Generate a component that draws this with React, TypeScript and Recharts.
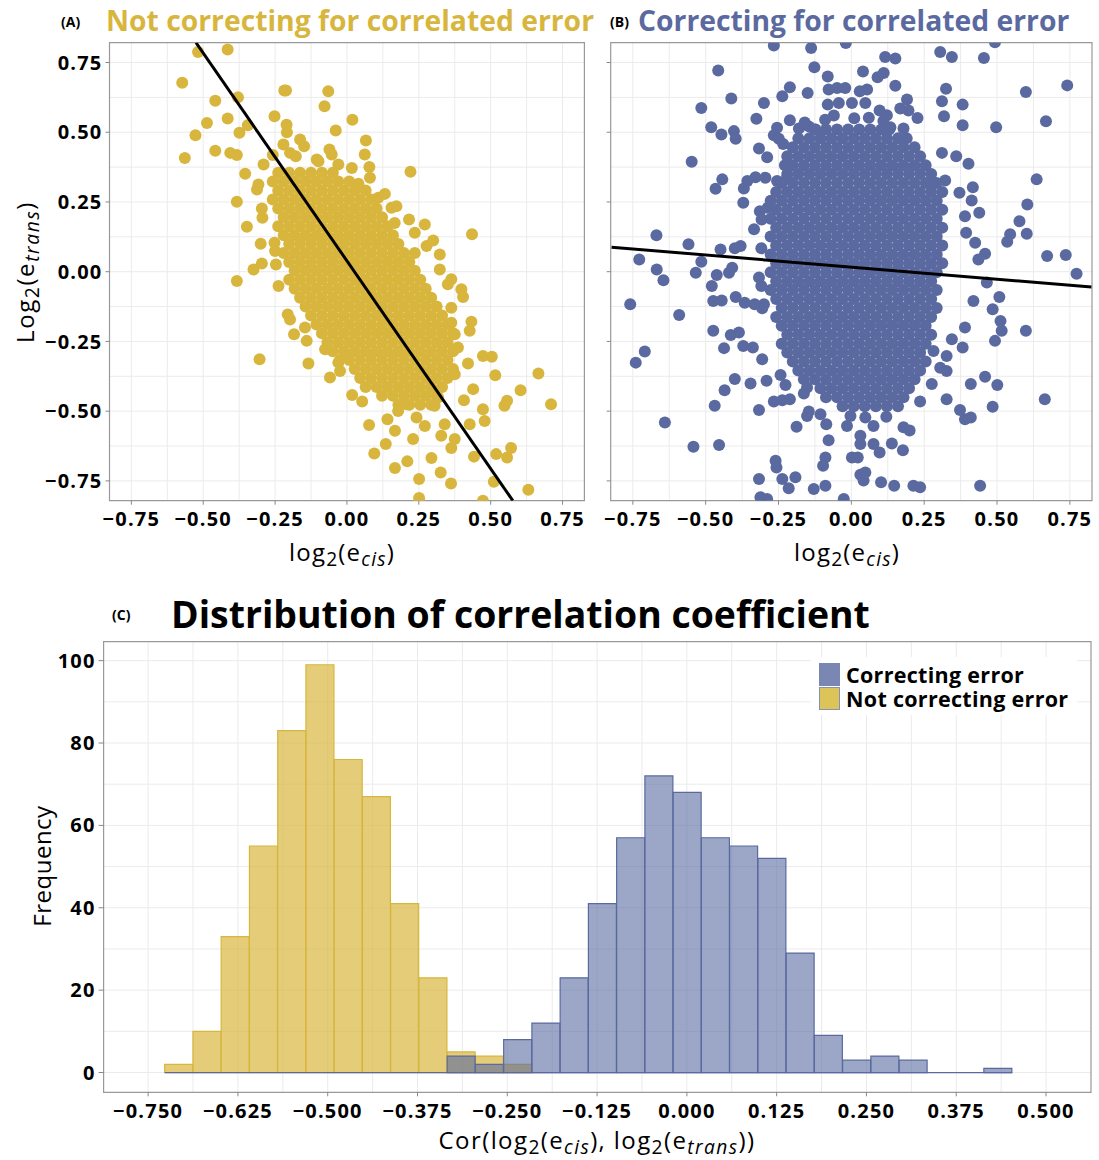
import {
  Bar,
  BarChart,
  CartesianGrid,
  ReferenceArea,
  ReferenceLine,
  Scatter,
  ScatterChart,
  XAxis,
  YAxis,
} from "recharts";

const YELLOW = "#D8B63E";
const BLUE = "#5A6AA0";
const FONT = "'Open Sans', Lato, sans-serif";

// panel A / B axes
const scatterTicks = [-0.75, -0.5, -0.25, 0, 0.25, 0.5, 0.75];
const scatterGrid = [-0.75, -0.625, -0.5, -0.375, -0.25, -0.125, 0, 0.125, 0.25, 0.375, 0.5, 0.625, 0.75];

// panel A: scattered points (x = log2 e_cis, y = log2 e_trans)
const outerA: [number, number][] = [
  [-0.518, 0.788], [-0.415, 0.797], [-0.573, 0.677], [-0.458, 0.613], [-0.379, 0.625], [-0.487, 0.533],
  [-0.415, 0.549], [-0.527, 0.489], [-0.564, 0.408], [-0.458, 0.434], [-0.406, 0.426], [-0.383, 0.418],
  [-0.374, 0.498], [-0.345, 0.525], [-0.252, 0.557], [-0.218, 0.65], [-0.212, 0.65], [-0.065, 0.647],
  [-0.078, 0.593], [0.019, 0.545], [-0.21, 0.527], [-0.209, 0.5], [-0.163, 0.474], [-0.149, 0.45],
  [-0.221, 0.456], [-0.198, 0.426], [-0.178, 0.414], [-0.258, 0.418], [-0.29, 0.384], [-0.354, 0.351],
  [-0.383, 0.251], [-0.313, 0.295], [-0.039, 0.506], [0.066, 0.47], [0.062, 0.42], [0.078, 0.375],
  [0.017, 0.372], [-0.061, 0.438], [-0.053, 0.42], [-0.105, 0.402], [0.221, 0.358], [0.04, 0.315],
  [0.132, 0.279], [0.435, 0.134], [-0.348, 0.161], [-0.296, 0.227], [-0.294, 0.193], [-0.3, 0.1],
  [-0.25, 0.074], [-0.325, 0.008], [-0.296, 0.029], [-0.383, -0.033], [-0.238, -0.051], [-0.304, -0.314],
  [-0.184, -0.224], [-0.134, -0.329], [-0.14, -0.248], [-0.059, -0.379], [-0.024, -0.356], [0.018, -0.442],
  [0.053, -0.465], [0.077, -0.55], [0.141, -0.529], [0.167, -0.57], [0.095, -0.652], [0.135, -0.618],
  [0.167, -0.704], [0.21, -0.68], [0.251, -0.743], [0.251, -0.811], [0.294, -0.668], [0.326, -0.72],
  [0.362, -0.759], [0.473, -0.821], [0.442, -0.663], [0.519, -0.654], [0.557, -0.666], [0.571, -0.632],
  [0.511, -0.753], [0.631, -0.782], [0.666, -0.365], [0.71, -0.475], [0.604, -0.425], [0.548, -0.481],
  [0.557, -0.463], [0.516, -0.371], [0.473, -0.302], [0.504, -0.305], [0.473, -0.493], [0.479, -0.535],
  [0.421, -0.329], [0.433, -0.179], [0.427, -0.212], [0.407, -0.461], [0.439, -0.421], [0.427, -0.547],
  [0.375, -0.6], [0.363, -0.632], [0.398, -0.063], [0.404, -0.091], [0.363, -0.027], [0.363, -0.129],
  [0.323, 0.062], [0.323, 0.008], [0.3, 0.112], [0.277, 0.092], [0.216, 0.187], [0.236, 0.14],
  [0.172, 0.235], [0.166, 0.175], [0.34, -0.547], [0.328, -0.588], [0.271, -0.553], [0.23, -0.6],
  [-0.308, 0.313], [-0.252, 0.104], [-0.247, 0.026], [-0.206, -0.153], [-0.198, -0.171], [-0.146, -0.2],
  [-0.076, -0.278], [-0.03, -0.326], [0.178, -0.499], [0.207, -0.475], [0.242, -0.523], [0.305, -0.481],
  [0.317, -0.451], [0.375, -0.368], [0.386, -0.272], [0.375, -0.224], [0.363, -0.183], [0.351, -0.045],
  [0.271, 0.169], [0.155, 0.229], [0.109, 0.265], [0.08, 0.337], [-0.03, 0.384], [-0.099, 0.396],
];

// panel A: dense core, read row by row (y, x positions)
const coreA: [number, number[]][] = [
  [0.355, [-0.239, -0.201, -0.163, -0.125, -0.087, -0.049]],
  [0.323, [-0.258, -0.22, -0.182, -0.144, -0.106, -0.068, -0.03, 0.008]],
  [0.291, [-0.239, -0.201, -0.163, -0.125, -0.087, -0.049, -0.011, 0.027, 0.065]],
  [0.259, [-0.258, -0.22, -0.182, -0.144, -0.106, -0.068, -0.03, 0.008, 0.046, 0.084]],
  [0.227, [-0.239, -0.201, -0.163, -0.125, -0.087, -0.049, -0.011, 0.027, 0.065, 0.103]],
  [0.195, [-0.22, -0.182, -0.144, -0.106, -0.068, -0.03, 0.008, 0.046, 0.084, 0.122]],
  [0.163, [-0.239, -0.201, -0.163, -0.125, -0.087, -0.049, -0.011, 0.027, 0.065, 0.103, 0.141]],
  [0.131, [-0.22, -0.182, -0.144, -0.106, -0.068, -0.03, 0.008, 0.046, 0.084, 0.122, 0.16]],
  [0.099, [-0.201, -0.163, -0.125, -0.087, -0.049, -0.011, 0.027, 0.065, 0.103, 0.141, 0.179]],
  [0.067, [-0.22, -0.182, -0.144, -0.106, -0.068, -0.03, 0.008, 0.046, 0.084, 0.122, 0.16, 0.198, 0.236]],
  [0.035, [-0.201, -0.163, -0.125, -0.087, -0.049, -0.011, 0.027, 0.065, 0.103, 0.141, 0.179, 0.217]],
  [0.003, [-0.182, -0.144, -0.106, -0.068, -0.03, 0.008, 0.046, 0.084, 0.122, 0.16, 0.198, 0.236]],
  [-0.029, [-0.201, -0.163, -0.125, -0.087, -0.049, -0.011, 0.027, 0.065, 0.103, 0.141, 0.179, 0.217, 0.255]],
  [-0.061, [-0.182, -0.144, -0.106, -0.068, -0.03, 0.008, 0.046, 0.084, 0.122, 0.16, 0.198, 0.236, 0.274]],
  [-0.093, [-0.163, -0.125, -0.087, -0.049, -0.011, 0.027, 0.065, 0.103, 0.141, 0.179, 0.217, 0.255, 0.293]],
  [-0.125, [-0.144, -0.106, -0.068, -0.03, 0.008, 0.046, 0.084, 0.122, 0.16, 0.198, 0.236, 0.274, 0.312]],
  [-0.157, [-0.125, -0.087, -0.049, -0.011, 0.027, 0.065, 0.103, 0.141, 0.179, 0.217, 0.255, 0.293, 0.331]],
  [-0.189, [-0.106, -0.068, -0.03, 0.008, 0.046, 0.084, 0.122, 0.16, 0.198, 0.236, 0.274, 0.312, 0.35]],
  [-0.221, [-0.087, -0.049, -0.011, 0.027, 0.065, 0.103, 0.141, 0.179, 0.217, 0.255, 0.293, 0.331, 0.369]],
  [-0.253, [-0.068, -0.03, 0.008, 0.046, 0.084, 0.122, 0.16, 0.198, 0.236, 0.274, 0.312, 0.35]],
  [-0.285, [-0.049, -0.011, 0.027, 0.065, 0.103, 0.141, 0.179, 0.217, 0.255, 0.293, 0.331, 0.369]],
  [-0.317, [-0.025, 0.008, 0.046, 0.084, 0.122, 0.16, 0.198, 0.236, 0.274, 0.312, 0.35]],
  [-0.349, [0.027, 0.065, 0.103, 0.141, 0.179, 0.217, 0.255, 0.293, 0.331, 0.369]],
  [-0.381, [0.046, 0.084, 0.122, 0.16, 0.198, 0.236, 0.274, 0.312, 0.35]],
  [-0.413, [0.065, 0.103, 0.141, 0.179, 0.217, 0.255, 0.293, 0.331]],
  [-0.445, [0.122, 0.16, 0.198, 0.236, 0.274, 0.312]],
  [-0.477, [0.179, 0.217, 0.255, 0.293]],
];

// panel B: scattered points
const outerB: [number, number][] = [
  [-0.266, 0.811], [-0.138, 0.802], [-0.019, 0.82], [0.305, 0.788], [0.345, 0.77], [0.455, 0.766],
  [0.493, 0.823], [0.116, 0.77], [0.151, 0.764], [-0.127, 0.733], [-0.081, 0.7], [0.04, 0.718],
  [0.09, 0.697], [0.111, 0.712], [0.151, 0.667], [0.325, 0.656], [0.599, 0.644], [0.741, 0.668],
  [-0.457, 0.721], [-0.412, 0.621], [-0.515, 0.587], [-0.3, 0.605], [-0.237, 0.629], [-0.211, 0.661],
  [-0.15, 0.641], [-0.078, 0.653], [-0.049, 0.659], [-0.021, 0.659], [0.029, 0.647], [0.054, 0.653],
  [-0.081, 0.599], [-0.043, 0.605], [0.002, 0.605], [0.048, 0.605], [0.191, 0.617], [0.168, 0.585],
  [0.196, 0.578], [0.122, 0.561], [0.097, 0.578], [0.227, 0.551], [0.311, 0.611], [0.318, 0.557],
  [0.382, 0.599], [0.382, 0.525], [0.497, 0.518], [0.668, 0.539], [-0.326, 0.548], [-0.211, 0.543],
  [-0.18, 0.513], [-0.146, 0.521], [-0.123, 0.51], [-0.481, 0.518], [-0.446, 0.492], [-0.403, 0.504],
  [-0.397, 0.477], [-0.266, 0.489], [-0.255, 0.516], [-0.249, 0.477], [-0.234, 0.458], [-0.317, 0.442],
  [-0.289, 0.41], [-0.548, 0.394], [0.134, 0.518], [0.179, 0.513], [0.36, 0.414], [0.402, 0.387],
  [0.636, 0.331], [0.311, 0.426], [0.322, 0.327], [0.276, 0.313], [0.417, 0.303], [0.371, 0.283],
  [0.413, 0.255], [0.439, 0.211], [0.39, 0.199], [0.604, 0.241], [0.577, 0.181], [0.545, 0.134],
  [0.602, 0.136], [0.535, 0.107], [0.394, 0.14], [0.425, 0.104], [0.459, 0.064], [0.436, 0.044],
  [0.672, 0.056], [0.736, 0.06], [0.773, -0.007], [0.465, -0.039], [0.508, -0.091], [0.419, -0.105],
  [0.485, -0.135], [0.512, -0.177], [0.516, -0.212], [0.493, -0.248], [0.599, -0.212], [0.39, -0.2],
  [0.345, -0.242], [0.382, -0.272], [0.327, -0.302], [0.305, -0.344], [0.327, -0.356], [0.282, -0.284],
  [0.459, -0.377], [0.41, -0.403], [0.501, -0.406], [0.664, -0.457], [0.485, -0.484], [0.373, -0.496],
  [0.39, -0.529], [0.41, -0.523], [0.327, -0.457], [0.276, -0.403], [0.236, -0.465], [0.442, -0.767],
  [0.213, -0.767], [0.236, -0.773], [0.147, -0.767], [0.102, -0.755], [0.042, -0.749], [0.031, -0.728],
  [0.048, -0.72], [-0.026, -0.815], [-0.089, -0.767], [-0.129, -0.779], [-0.192, -0.737], [-0.237, -0.743],
  [-0.215, -0.776], [-0.317, -0.743], [-0.312, -0.809], [-0.289, -0.815], [-0.26, -0.678], [-0.257, -0.702],
  [-0.089, -0.666], [-0.097, -0.696], [-0.078, -0.604], [0.002, -0.666], [0.022, -0.666], [0.097, -0.648],
  [0.076, -0.618], [0.031, -0.618], [0.031, -0.588], [0.139, -0.616], [0.177, -0.64], [0.179, -0.558],
  [0.2, -0.569], [0.12, -0.52], [0.076, -0.553], [0.048, -0.523], [-0.015, -0.553], [-0.003, -0.517],
  [-0.086, -0.547], [-0.106, -0.511], [-0.152, -0.517], [-0.146, -0.501], [-0.188, -0.556], [-0.317, -0.496],
  [-0.266, -0.465], [-0.237, -0.461], [-0.211, -0.457], [-0.152, -0.415], [-0.163, -0.437], [-0.226, -0.406],
  [-0.243, -0.37], [-0.291, -0.391], [-0.346, -0.401], [-0.4, -0.385], [-0.435, -0.425], [-0.469, -0.481],
  [-0.64, -0.541], [-0.542, -0.628], [-0.454, -0.621], [-0.74, -0.326], [-0.709, -0.286], [-0.759, -0.117],
  [-0.591, -0.155], [-0.474, -0.212], [-0.437, -0.274], [-0.414, -0.227], [-0.386, -0.218], [-0.371, -0.266],
  [-0.338, -0.272], [-0.306, -0.314], [-0.474, -0.105], [-0.445, -0.103], [-0.397, -0.091], [-0.366, -0.111],
  [-0.332, -0.117], [-0.306, -0.131], [-0.479, -0.051], [-0.462, -0.012], [-0.42, -0.004], [-0.409, 0.014],
  [-0.534, -0.004], [-0.515, 0.036], [-0.668, 0.008], [-0.645, -0.031], [-0.728, 0.044], [-0.669, 0.131],
  [-0.559, 0.098], [-0.449, 0.08], [-0.4, 0.084], [-0.38, 0.092], [-0.309, 0.084], [-0.334, 0.152],
  [-0.314, 0.217], [-0.287, 0.229], [-0.308, 0.187], [-0.371, 0.247], [-0.466, 0.297], [-0.443, 0.331],
  [-0.369, 0.298], [-0.357, 0.325], [-0.329, 0.339], [-0.295, 0.337], [-0.255, 0.325], [-0.221, 0.337],
  [-0.317, -0.021], [-0.309, -0.051], [-0.3, -0.117],
  [-0.09, 0.545], [-0.06, 0.56], [0.01, 0.55], [0.06, 0.552], [0.11, 0.54], [-0.16, 0.535],
];

// panel B: dense core, row by row
const coreB: [number, number[]][] = [
  [0.51, [-0.125, -0.087, -0.049, -0.011, 0.027, 0.065, 0.103, 0.13]],
  [0.478, [-0.182, -0.144, -0.106, -0.068, -0.03, 0.008, 0.046, 0.084, 0.122, 0.16, 0.19]],
  [0.446, [-0.201, -0.163, -0.125, -0.087, -0.049, -0.011, 0.027, 0.065, 0.103, 0.141, 0.179, 0.217]],
  [0.414, [-0.22, -0.182, -0.144, -0.106, -0.068, -0.03, 0.008, 0.046, 0.084, 0.122, 0.16, 0.198, 0.236]],
  [0.382, [-0.228, -0.201, -0.163, -0.125, -0.087, -0.049, -0.011, 0.027, 0.065, 0.103, 0.141, 0.179, 0.217, 0.255]],
  [0.35, [-0.22, -0.182, -0.144, -0.106, -0.068, -0.03, 0.008, 0.046, 0.084, 0.122, 0.16, 0.198, 0.236, 0.274]],
  [0.318, [-0.239, -0.201, -0.163, -0.125, -0.087, -0.049, -0.011, 0.027, 0.065, 0.103, 0.141, 0.179, 0.217, 0.255, 0.293]],
  [0.286, [-0.258, -0.22, -0.182, -0.144, -0.106, -0.068, -0.03, 0.008, 0.046, 0.084, 0.122, 0.16, 0.198, 0.236, 0.274, 0.312]],
  [0.254, [-0.277, -0.239, -0.201, -0.163, -0.125, -0.087, -0.049, -0.011, 0.027, 0.065, 0.103, 0.141, 0.179, 0.217, 0.255, 0.293]],
  [0.222, [-0.258, -0.22, -0.182, -0.144, -0.106, -0.068, -0.03, 0.008, 0.046, 0.084, 0.122, 0.16, 0.198, 0.236, 0.274, 0.312]],
  [0.19, [-0.277, -0.239, -0.201, -0.163, -0.125, -0.087, -0.049, -0.011, 0.027, 0.065, 0.103, 0.141, 0.179, 0.217, 0.255, 0.293]],
  [0.158, [-0.258, -0.22, -0.182, -0.144, -0.106, -0.068, -0.03, 0.008, 0.046, 0.084, 0.122, 0.16, 0.198, 0.236, 0.274, 0.312]],
  [0.126, [-0.277, -0.239, -0.201, -0.163, -0.125, -0.087, -0.049, -0.011, 0.027, 0.065, 0.103, 0.141, 0.179, 0.217, 0.255, 0.293]],
  [0.094, [-0.258, -0.22, -0.182, -0.144, -0.106, -0.068, -0.03, 0.008, 0.046, 0.084, 0.122, 0.16, 0.198, 0.236, 0.274, 0.312]],
  [0.062, [-0.277, -0.239, -0.201, -0.163, -0.125, -0.087, -0.049, -0.011, 0.027, 0.065, 0.103, 0.141, 0.179, 0.217, 0.255, 0.293]],
  [0.03, [-0.258, -0.22, -0.182, -0.144, -0.106, -0.068, -0.03, 0.008, 0.046, 0.084, 0.122, 0.16, 0.198, 0.236, 0.274, 0.312]],
  [-0.002, [-0.277, -0.239, -0.201, -0.163, -0.125, -0.087, -0.049, -0.011, 0.027, 0.065, 0.103, 0.141, 0.179, 0.217, 0.255, 0.293]],
  [-0.034, [-0.258, -0.22, -0.182, -0.144, -0.106, -0.068, -0.03, 0.008, 0.046, 0.084, 0.122, 0.16, 0.198, 0.236, 0.274]],
  [-0.066, [-0.277, -0.239, -0.201, -0.163, -0.125, -0.087, -0.049, -0.011, 0.027, 0.065, 0.103, 0.141, 0.179, 0.217, 0.255, 0.293]],
  [-0.098, [-0.258, -0.22, -0.182, -0.144, -0.106, -0.068, -0.03, 0.008, 0.046, 0.084, 0.122, 0.16, 0.198, 0.236, 0.274]],
  [-0.13, [-0.239, -0.201, -0.163, -0.125, -0.087, -0.049, -0.011, 0.027, 0.065, 0.103, 0.141, 0.179, 0.217, 0.255, 0.293]],
  [-0.162, [-0.258, -0.22, -0.182, -0.144, -0.106, -0.068, -0.03, 0.008, 0.046, 0.084, 0.122, 0.16, 0.198, 0.236, 0.274]],
  [-0.194, [-0.239, -0.201, -0.163, -0.125, -0.087, -0.049, -0.011, 0.027, 0.065, 0.103, 0.141, 0.179, 0.217, 0.255]],
  [-0.226, [-0.22, -0.182, -0.144, -0.106, -0.068, -0.03, 0.008, 0.046, 0.084, 0.122, 0.16, 0.198, 0.236, 0.274]],
  [-0.258, [-0.239, -0.201, -0.163, -0.125, -0.087, -0.049, -0.011, 0.027, 0.065, 0.103, 0.141, 0.179, 0.217, 0.255]],
  [-0.29, [-0.22, -0.182, -0.144, -0.106, -0.068, -0.03, 0.008, 0.046, 0.084, 0.122, 0.16, 0.198, 0.236]],
  [-0.322, [-0.201, -0.163, -0.125, -0.087, -0.049, -0.011, 0.027, 0.065, 0.103, 0.141, 0.179, 0.217, 0.255]],
  [-0.354, [-0.182, -0.144, -0.106, -0.068, -0.03, 0.008, 0.046, 0.084, 0.122, 0.16, 0.198, 0.236]],
  [-0.386, [-0.163, -0.125, -0.087, -0.049, -0.011, 0.027, 0.065, 0.103, 0.141, 0.179, 0.217]],
  [-0.418, [-0.106, -0.068, -0.03, 0.008, 0.046, 0.084, 0.122, 0.16, 0.198]],
  [-0.45, [-0.087, -0.049, -0.011, 0.027, 0.065, 0.103, 0.141, 0.179]],
  [-0.482, [-0.03, 0.008, 0.046, 0.084, 0.122, 0.16]],
];

// fitted lines (ends at the panel border)
const fitA = [{ x: -0.525, y: 0.821 }, { x: 0.577, y: -0.821 }];
const fitB = [{ x: -0.823, y: 0.088 }, { x: 0.824, y: -0.055 }];

// panel C: histogram, 30 shared bins
const binCenters = [
  -0.7072, -0.6679, -0.6286, -0.5893, -0.5499, -0.5106, -0.4713, -0.432, -0.3926, -0.3533,
  -0.314, -0.2747, -0.2353, -0.196, -0.1567, -0.1174, -0.078, -0.0387, 0.0006, 0.0399,
  0.0793, 0.1186, 0.1579, 0.1972, 0.2366, 0.2759, 0.3152, 0.3545, 0.3939, 0.4332,
];
const notCorrecting = [2, 10, 33, 55, 83, 99, 76, 67, 41, 23, 5, 4, 2, 0, 0, 0, 0, 0, 0, 0, 0, 0, 0, 0, 0, 0, 0, 0, 0, 0];
const correcting = [0, 0, 0, 0, 0, 0, 0, 0, 0, 0, 4, 2, 8, 12, 23, 41, 57, 72, 68, 57, 55, 52, 29, 9, 3, 4, 3, 0, 0, 1];
const binRange = [-0.7269, 0.4528];

const histTicks = [-0.75, -0.625, -0.5, -0.375, -0.25, -0.125, 0, 0.125, 0.25, 0.375, 0.5];
const histGridX = [
  -0.75, -0.6875, -0.625, -0.5625, -0.5, -0.4375, -0.375, -0.3125, -0.25, -0.1875, -0.125, -0.0625,
  0, 0.0625, 0.125, 0.1875, 0.25, 0.3125, 0.375, 0.4375, 0.5,
];
const freqTicks = [0, 20, 40, 60, 80, 100];
const freqGrid = [0, 10, 20, 30, 40, 50, 60, 70, 80, 90, 100];

const toPoints = (outer: [number, number][], core: [number, number[]][]) => [
  ...outer.map(([x, y]) => ({ x, y })),
  ...core.flatMap(([y, xs]) => xs.map((x) => ({ x, y }))),
];
const pointsA = toPoints(outerA, coreA);
const pointsB = toPoints(outerB, coreB);

const histRows = binCenters.map((center, i) => ({
  bin: i,
  center,
  notCorr: notCorrecting[i],
  corr: correcting[i],
}));

const minus = (v: number, digits: number) => (v < 0 ? "\u2212" : "") + Math.abs(v).toFixed(digits);
const tickStyle = { fill: "#000", fontSize: 20, fontWeight: 700, fontFamily: FONT, letterSpacing: 1.2 };

const dot = (color: string) => (p: any) => <circle cx={p.cx} cy={p.cy} r={6} fill={color} />;
const noDot = () => <g />;

function ScatterPanel({
  points,
  fit,
  color,
  yLabels,
}: {
  points: { x: number; y: number }[];
  fit: { x: number; y: number }[];
  color: string;
  yLabels: boolean;
}) {
  return (
    <ScatterChart
      width={yLabels ? 600 : 509}
      height={560}
      margin={{ top: 42.7, right: yLabels ? 15.6 : 7, bottom: 19.3, left: 0 }}
    >
      <CartesianGrid stroke="#ebebeb" verticalValues={scatterGrid} horizontalValues={scatterGrid} />
      <XAxis
        type="number"
        dataKey="x"
        domain={[-0.826, 0.826]}
        ticks={scatterTicks}
        interval={0}
        allowDataOverflow
        height={40}
        axisLine={false}
        tickSize={4}
        tickMargin={7}
        tickLine={{ stroke: "#888" }}
        tick={tickStyle}
        tickFormatter={(v) => minus(v, 2)}
      />
      <YAxis
        type="number"
        dataKey="y"
        domain={[-0.821, 0.821]}
        ticks={scatterTicks}
        interval={0}
        allowDataOverflow
        width={yLabels ? 109.5 : 20.7}
        axisLine={false}
        tickSize={4}
        tickMargin={3}
        tickLine={{ stroke: "#888" }}
        tick={tickStyle}
        tickFormatter={(v) => (yLabels ? minus(v, 2) : "")}
      />
      <Scatter data={points} fill={color} shape={dot(color)} isAnimationActive={false} />
      <Scatter
        data={fit}
        fill="#000"
        stroke="#000"
        line={{ stroke: "#000", strokeWidth: 3 }}
        shape={noDot}
        isAnimationActive={false}
      />
      <ReferenceArea x1={-0.826} x2={0.826} y1={-0.821} y2={0.821} fill="none" stroke="#999" strokeWidth={1.2} />
    </ScatterChart>
  );
}

const abs = (s: React.CSSProperties): React.CSSProperties => ({ position: "absolute", lineHeight: 1, whiteSpace: "nowrap", ...s });
const subStyle: React.CSSProperties = { fontSize: "0.8em", verticalAlign: "-0.25em", lineHeight: 0 };

const Log2 = ({ name, cap }: { name: string; cap?: boolean }) => (
  <>
    {cap ? "Log" : "log"}
    <span style={subStyle}>2</span>(e<span style={{ ...subStyle, fontStyle: "italic" }}>{name}</span>)
  </>
);

export default function App() {
  return (
    <div style={{ position: "absolute", left: 0, top: 0, width: 1099, height: 1160, background: "#fff", fontFamily: FONT, color: "#000" }}>
      <div style={{ position: "absolute", left: 0, top: 0 }}>
        <ScatterPanel points={pointsA} fit={fitA} color={YELLOW} yLabels />
      </div>
      <div style={{ position: "absolute", left: 590, top: 0 }}>
        <ScatterPanel points={pointsB} fit={fitB} color={BLUE} yLabels={false} />
      </div>

      <div style={abs({ left: 61, top: 15, fontSize: 14, fontWeight: 700 })}>(A)</div>
      <div style={abs({ left: 106, top: 6, fontSize: 28.3, fontWeight: 700, color: YELLOW })}>
        Not correcting for correlated error
      </div>
      <div style={abs({ left: 610, top: 15, fontSize: 14, fontWeight: 700 })}>(B)</div>
      <div style={abs({ left: 638, top: 6, fontSize: 28.3, fontWeight: 700, color: BLUE })}>
        Correcting for correlated error
      </div>

      <div style={abs({ left: 242, width: 200, textAlign: "center", top: 540, fontSize: 24, letterSpacing: 1.2 })}>
        <Log2 name="cis" />
      </div>
      <div style={abs({ left: 747, width: 200, textAlign: "center", top: 540, fontSize: 24, letterSpacing: 1.2 })}>
        <Log2 name="cis" />
      </div>
      <div style={abs({ left: 25 - 100, width: 200, textAlign: "center", top: 272 - 12, fontSize: 24, letterSpacing: 1.6, transform: "rotate(-90deg)" })}>
        <Log2 name="trans" cap />
      </div>

      <div style={abs({ left: 112, top: 608, fontSize: 14, fontWeight: 700 })}>(C)</div>
      <div style={abs({ left: 171, top: 595, fontSize: 37.4, fontWeight: 700 })}>
        Distribution of correlation coefficient
      </div>

      <div style={{ position: "absolute", left: 0, top: 600 }}>
        <BarChart
          width={1099}
          height={560}
          data={histRows}
          margin={{ top: 41.7, right: 8, bottom: 27.7, left: 0 }}
          barCategoryGap={0}
          barGap={0}
        >
          <CartesianGrid
            xAxisId="num"
            stroke="#ebebeb"
            verticalValues={histGridX}
            horizontalValues={freqGrid}
          />
          <XAxis
            xAxisId="num"
            type="number"
            dataKey="center"
            domain={[-0.812, 0.5626]}
            ticks={histTicks}
            interval={0}
            height={40}
            axisLine={false}
            tickSize={4}
            tickMargin={7}
            tickLine={{ stroke: "#888" }}
            tick={tickStyle}
            tickFormatter={(v) => minus(v, 3)}
          />
          <XAxis xAxisId="cy" type="category" dataKey="bin" hide height={0} padding={{ left: 61.1, right: 78.9 }} />
          <XAxis xAxisId="cb" type="category" dataKey="bin" hide height={0} padding={{ left: 61.1, right: 78.9 }} />
          <YAxis
            type="number"
            domain={[-4.8, 104.6]}
            ticks={freqTicks}
            interval={0}
            width={103.6}
            axisLine={false}
            tickSize={5}
            tickMargin={3}
            tickLine={{ stroke: "#888" }}
            tick={tickStyle}
          />
          <Bar xAxisId="cy" dataKey="notCorr" fill={YELLOW} fillOpacity={0.7} stroke={YELLOW} strokeWidth={1.2} isAnimationActive={false} />
          <Bar xAxisId="cb" dataKey="corr" fill={BLUE} fillOpacity={0.6} stroke={BLUE} strokeWidth={1.2} isAnimationActive={false} />
          <ReferenceLine
            xAxisId="num"
            segment={[{ x: binRange[0], y: 0 }, { x: binRange[1], y: 0 }]}
            stroke={BLUE}
            strokeWidth={1.2}
          />
          <ReferenceArea xAxisId="num" x1={-0.812} x2={0.5626} y1={-4.8} y2={104.6} fill="none" stroke="#999" strokeWidth={1.2} />
        </BarChart>
      </div>

      <div style={{ position: "absolute", left: 811, top: 657, width: 266, height: 58, background: "#fff" }} />
      <div style={{ position: "absolute", left: 819, top: 663, width: 21, height: 23, background: BLUE, opacity: 0.8, border: `1px solid ${BLUE}`, boxSizing: "border-box" }} />
      <div style={{ position: "absolute", left: 819, top: 687, width: 21, height: 23, background: "#DCC458", border: "1px solid #8592B8", boxSizing: "border-box" }} />
      <div style={abs({ left: 846, top: 664, fontSize: 21.5, fontWeight: 700, letterSpacing: 0.3 })}>Correcting error</div>
      <div style={abs({ left: 846, top: 688, fontSize: 21.5, fontWeight: 700, letterSpacing: 0.3 })}>Not correcting error</div>

      <div style={abs({ left: 42 - 100, width: 200, textAlign: "center", top: 866 - 12, fontSize: 24, letterSpacing: 0.5, transform: "rotate(-90deg)" })}>
        Frequency
      </div>
      <div style={abs({ left: 397, width: 400, textAlign: "center", top: 1128, fontSize: 24, letterSpacing: 1.4 })}>
        Cor(<Log2 name="cis" />, <Log2 name="trans" />)
      </div>
    </div>
  );
}
